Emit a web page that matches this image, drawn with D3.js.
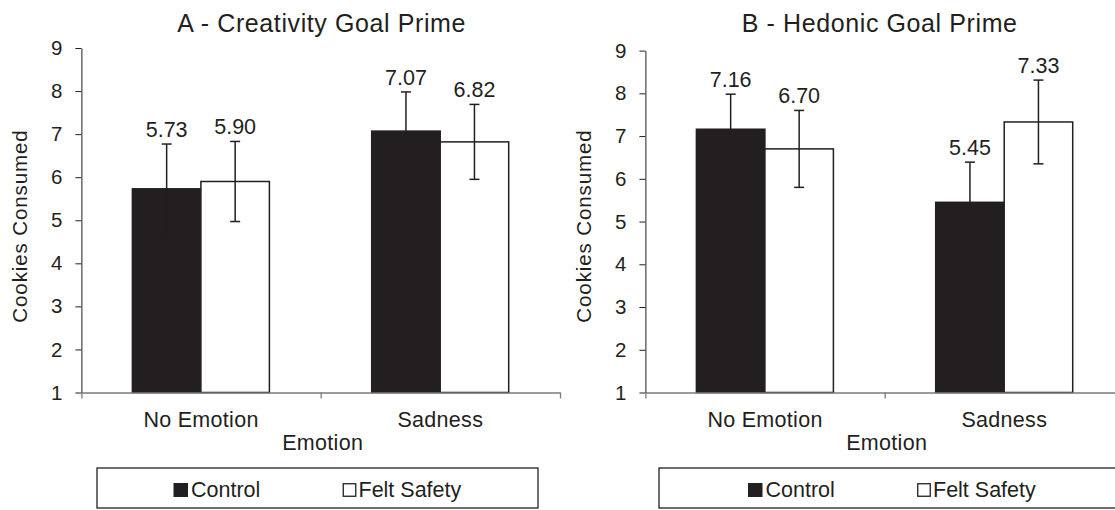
<!DOCTYPE html>
<html>
<head>
<meta charset="utf-8">
<script src="https://cdn.jsdelivr.net/npm/d3@7"></script>
<style>
body { margin: 0; background: #fff; }
text { font-family: "Liberation Sans", Arial, sans-serif; fill: #231f20; }
</style>
</head>
<body>
<div class="chart"></div>
<script>
var categories = ["No Emotion", "Sadness"];
var series = ["Control", "Felt Safety"];
var y_ticks = [1, 2, 3, 4, 5, 6, 7, 8, 9];

var creativity_control = [5.73, 7.07];
var creativity_felt = [5.90, 6.82];
var creativity_control_err = [1.04, 0.91];
var creativity_felt_err = [0.93, 0.87];

var hedonic_control = [7.16, 5.45];
var hedonic_felt = [6.70, 7.33];
var hedonic_control_err = [0.82, 0.94];
var hedonic_felt_err = [0.90, 0.98];

var panel_titles = ["A - Creativity Goal Prime", "B - Hedonic Goal Prime"];
var y_title = "Cookies Consumed";
var x_title = "Emotion";

var width = 1115, height = 510;
var ink = "#231f20";

var svg = d3.select(".chart").append("svg")
            .attr("width", width)
            .attr("height", height);

var panels = [
    {dx: 0, top: 48, title: panel_titles[0], legend_x: 97, legend_w: 441,
     values: [creativity_control, creativity_felt], errs: [creativity_control_err, creativity_felt_err]},
    {dx: 564, top: 50.6, title: panel_titles[1], legend_x: 659, legend_w: 466,
     values: [hedonic_control, hedonic_felt], errs: [hedonic_control_err, hedonic_felt_err]}
];

var left = 81.4, right = 560, bottom = 392.5;

panels.forEach(function(p){
    var g = svg.append("g").attr("transform", "translate(" + p.dx + ",0)");

    var y = d3.scaleLinear().domain([1, 9]).range([bottom, p.top]);
    var x0 = d3.scaleBand().domain(categories).range([left, right]);
    var x1 = d3.scaleBand().domain(series).range([51, 51 + 137]);
    var x_edge = d3.scaleLinear().domain([0, categories.length]).range([left, right]);

    // bars
    var rows = [];
    categories.forEach(function(c, i){
        series.forEach(function(s, j){
            rows.push({cat: c, ser: s, value: p.values[j][i], err: p.errs[j][i]});
        });
    });

    g.append("g").selectAll("rect")
        .data(rows)
        .enter()
        .append("rect")
        .attr("x", d => x0(d.cat) + x1(d.ser))
        .attr("y", d => y(d.value))
        .attr("width", x1.bandwidth())
        .attr("height", d => y(1) - y(d.value))
        .attr("fill", d => d.ser == series[0] ? ink : "#fff")
        .attr("stroke", ink)
        .attr("stroke-width", 1.5);

    // error bars
    var eb = g.append("g").selectAll("g")
        .data(rows)
        .enter()
        .append("g")
        .attr("transform", d => "translate(" + (x0(d.cat) + x1(d.ser) + x1.bandwidth() / 2) + ",0)")
        .attr("stroke", ink)
        .attr("stroke-width", 1.5);
    eb.append("line")
        .attr("y1", d => y(d.value - d.err))
        .attr("y2", d => y(d.value + d.err));
    eb.append("line")
        .attr("x1", -5).attr("x2", 5)
        .attr("y1", d => y(d.value + d.err))
        .attr("y2", d => y(d.value + d.err));
    eb.append("line")
        .attr("x1", -5).attr("x2", 5)
        .attr("y1", d => y(d.value - d.err))
        .attr("y2", d => y(d.value - d.err));

    g.append("g").selectAll("text")
        .data(rows)
        .enter()
        .append("text")
        .attr("x", d => x0(d.cat) + x1(d.ser) + x1.bandwidth() / 2)
        .attr("y", d => y(d.value + d.err) - 7)
        .attr("text-anchor", "middle")
        .attr("font-size", "21.5px")
        .text(d => d.value.toFixed(2));

    // axes
    var y_axis = g.append("g")
        .attr("transform", "translate(" + left + ",0)")
        .call(d3.axisLeft(y).tickValues(y_ticks).tickSize(6).tickSizeOuter(0).tickPadding(13));
    y_axis.selectAll("path, line").attr("stroke", ink);
    y_axis.attr("font-family", null).attr("font-size", null);
    y_axis.selectAll("text")
        .attr("font-size", "20.5px")
        .attr("fill", null);

    var x_axis = g.append("g")
        .attr("transform", "translate(0," + bottom + ")")
        .call(d3.axisBottom(x_edge).tickValues(d3.range(categories.length + 1))
            .tickSize(6).tickSizeOuter(0).tickFormat(""));
    x_axis.selectAll("path, line").attr("stroke", "#7a7a7a").attr("stroke-width", 1.3);

    g.append("g").selectAll("text")
        .data(categories)
        .enter()
        .append("text")
        .attr("x", d => x0(d) + x0.bandwidth() / 2)
        .attr("y", 426.7)
        .attr("text-anchor", "middle")
        .attr("font-size", "21.5px")
        .style("letter-spacing", "0.3px")
        .text(d => d);

    g.append("text")
        .attr("x", (left + right) / 2 + 2)
        .attr("y", 450)
        .attr("text-anchor", "middle")
        .attr("font-size", "21.5px")
        .style("letter-spacing", "0.3px")
        .text(x_title);

    g.append("text")
        .attr("transform", "translate(27," + 226 + ") rotate(-90)")
        .attr("text-anchor", "middle")
        .attr("font-size", "20.5px")
        .style("letter-spacing", "0.9px")
        .text(y_title);

    g.append("text")
        .attr("x", (left + right) / 2 + (p.dx ? -5 : 1))
        .attr("y", 32)
        .attr("text-anchor", "middle")
        .attr("font-size", "25px")
        .style("letter-spacing", "0.6px")
        .text(p.title);

    // legend
    var lg = svg.append("g");
    lg.append("rect")
        .attr("x", p.legend_x)
        .attr("y", 468)
        .attr("width", p.legend_w)
        .attr("height", 40)
        .attr("fill", "none")
        .attr("stroke", ink)
        .attr("stroke-width", 1.3);
    var cx = p.legend_x + p.legend_w / 2;
    var items = lg.selectAll("g.item")
        .data(series)
        .enter()
        .append("g")
        .attr("class", "item")
        .attr("transform", (d, i) => "translate(" + (cx - 144 + i * 169) + ",0)");
    items.append("rect")
        .attr("x", (d, i) => i == 0 ? 0 : 0.75)
        .attr("y", (d, i) => i == 0 ? 483 : 483.75)
        .attr("width", (d, i) => i == 0 ? 14.5 : 12.5)
        .attr("height", (d, i) => i == 0 ? 14 : 12.5)
        .attr("fill", (d, i) => i == 0 ? ink : "#fff")
        .attr("stroke", (d, i) => i == 0 ? "none" : ink)
        .attr("stroke-width", 1.3);
    items.append("text")
        .attr("x", (d, i) => i == 0 ? 17.5 : 16)
        .attr("y", 496.7)
        .attr("font-size", "21.5px")
        .text(d => d);
});
</script>
</body>
</html>
